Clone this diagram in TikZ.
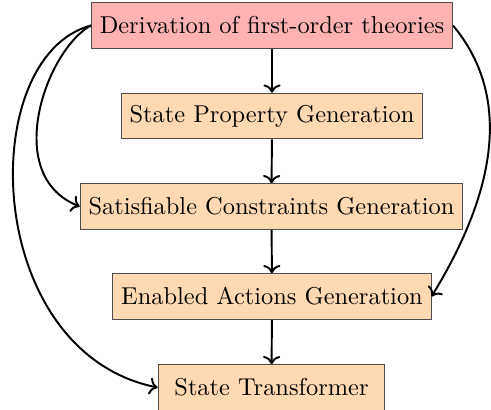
\documentclass[tikz,border=0pt]{standalone}
\usetikzlibrary{arrows.meta}
\begin{document}
\begin{tikzpicture}[x=0.41pt,y=-0.41pt,
  stage/.style={draw=black!70, fill=orange!30, inner sep=3.4pt, minimum height=18.7pt},
  source/.style={stage, fill=red!30},
  flow/.style={->, thick, black}]
\useasboundingbox (0,0) rectangle (491,410);
\node[source] (dft) at (272,25.5) {Derivation of first-order theories};
\node[stage] (spg) at (272,116) {State Property Generation};
\node[stage] (scg) at (271.5,206.5) {Satisfiable Constraints Generation};
\node[stage] (eag) at (272,296.5) {Enabled Actions Generation};
\node[stage, minimum width=93pt] (st) at (271.5,387.5) {State Transformer};
% main pipeline
\draw[flow] (dft) -- (spg);
\draw[flow] (spg) -- (scg);
\draw[flow] (scg) -- (eag);
\draw[flow] (eag) -- (st);
% side feeds from the theories
\draw[flow] (dft.west) .. controls +(-44,23.5) and +(-79,-31.5) .. (scg.west);
\draw[flow] (dft.west) .. controls +(-116,31) and +(-176,-36) .. (st.west);
\draw[flow] (dft.east) .. controls +(71,85) and +(47,-77) .. (eag.east);
\end{tikzpicture}
\end{document}
